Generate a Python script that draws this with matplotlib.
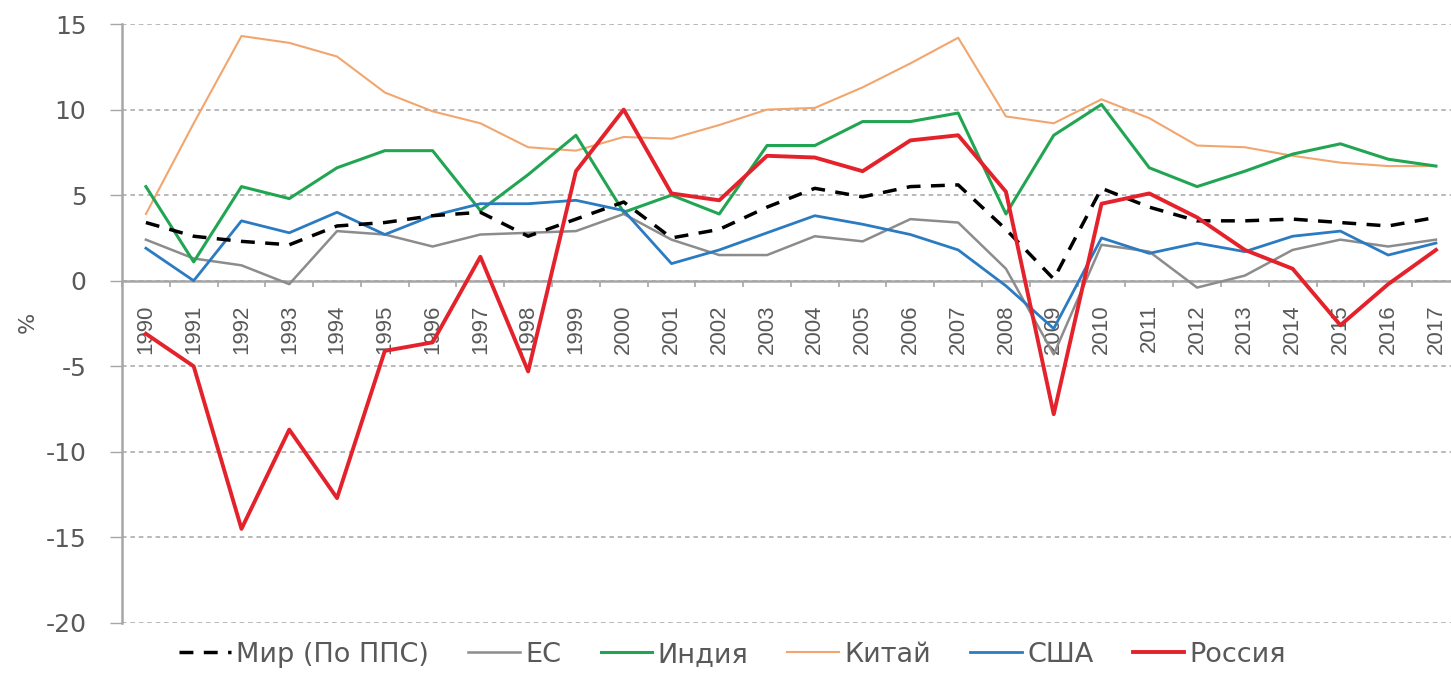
import matplotlib
matplotlib.use("Agg")
import matplotlib.pyplot as plt
from matplotlib.ticker import FixedLocator, MultipleLocator

# Data
years = list(range(1990, 2018))
world = [3.4, 2.6, 2.3, 2.1, 3.2, 3.4, 3.8, 4.0, 2.6, 3.6, 4.6, 2.5, 3.0, 4.3, 5.4, 4.9,
         5.5, 5.6, 3.0, 0.1, 5.4, 4.3, 3.5, 3.5, 3.6, 3.4, 3.2, 3.7]
eu = [2.4, 1.3, 0.9, -0.2, 2.9, 2.7, 2.0, 2.7, 2.8, 2.9, 3.9, 2.4, 1.5, 1.5, 2.6, 2.3,
      3.6, 3.4, 0.7, -4.3, 2.1, 1.7, -0.4, 0.3, 1.8, 2.4, 2.0, 2.4]
india = [5.5, 1.1, 5.5, 4.8, 6.6, 7.6, 7.6, 4.1, 6.2, 8.5, 4.0, 5.0, 3.9, 7.9, 7.9, 9.3,
         9.3, 9.8, 3.9, 8.5, 10.3, 6.6, 5.5, 6.4, 7.4, 8.0, 7.1, 6.7]
china = [3.9, 9.2, 14.3, 13.9, 13.1, 11.0, 9.9, 9.2, 7.8, 7.6, 8.4, 8.3, 9.1, 10.0, 10.1, 11.3,
         12.7, 14.2, 9.6, 9.2, 10.6, 9.5, 7.9, 7.8, 7.3, 6.9, 6.7, 6.7]
usa = [1.9, 0.0, 3.5, 2.8, 4.0, 2.7, 3.8, 4.5, 4.5, 4.7, 4.1, 1.0, 1.8, 2.8, 3.8, 3.3,
       2.7, 1.8, -0.3, -2.8, 2.5, 1.6, 2.2, 1.7, 2.6, 2.9, 1.5, 2.2]
russia = [-3.1, -5.0, -14.5, -8.7, -12.7, -4.1, -3.6, 1.4, -5.3, 6.4, 10.0, 5.1, 4.7, 7.3, 7.2, 6.4,
          8.2, 8.5, 5.2, -7.8, 4.5, 5.1, 3.7, 1.8, 0.7, -2.6, -0.2, 1.8]

labels = ["Мир (По ППС)", "ЕС", "Индия", "Китай", "США", "Россия"]
y_ticks = [-20, -15, -10, -5, 0, 5, 10, 15]

GRAY = "#A6A6A6"
TEXT = "#595959"

plt.rcParams["font.family"] = ["DejaVu Sans"]

fig = plt.figure(figsize=(14.51, 6.73), dpi=100)
ax = fig.add_axes((0.0841, 0.0743, 0.922, 0.890))

x = [i + 0.5 for i in range(len(years))]

ax.plot(x, world, color="black", lw=2.5, linestyle=(0, (4, 3)), label=labels[0], zorder=4)
ax.plot(x, eu, color="#8C8C8C", lw=1.8, label=labels[1], zorder=3)
ax.plot(x, india, color="#22A552", lw=2.2, label=labels[2], zorder=3)
ax.plot(x, china, color="#F2A66E", lw=1.5, label=labels[3], zorder=2)
ax.plot(x, usa, color="#2A7BC1", lw=2.0, label=labels[4], zorder=3)
ax.plot(x, russia, color="#E4222B", lw=2.8, label=labels[5], zorder=5)

ax.set_xlim(0, len(years))
ax.set_ylim(-20, 15)

# Grid
ax.yaxis.set_major_locator(FixedLocator(y_ticks))
ax.grid(axis="y", color=GRAY, lw=1.1, linestyle=(0, (3, 2.5)), zorder=0)
ax.set_axisbelow(True)

# Spines
for side in ("top", "right"):
    ax.spines[side].set_visible(False)
ax.spines["left"].set_color(GRAY)
ax.spines["left"].set_linewidth(1.8)
ax.spines["bottom"].set_position(("data", 0))
ax.spines["bottom"].set_color(GRAY)
ax.spines["bottom"].set_linewidth(1.8)

# Ticks
ax.set_xticks(x)
ax.set_xticklabels([str(y) for y in years], rotation=90, va="top", ha="center",
                   family=["Liberation Sans", "DejaVu Sans"], fontsize=16, color=TEXT)
ax.xaxis.set_minor_locator(MultipleLocator(1))
ax.tick_params(axis="x", which="major", length=0, pad=17)
ax.tick_params(axis="x", which="minor", length=4.5, width=1.2, color=GRAY, direction="out")
ax.tick_params(axis="y", which="major", length=8.6, width=1.0, color=GRAY, pad=17,
               labelsize=18, labelcolor=TEXT)
ax.set_yticklabels([str(v) for v in y_ticks])

fig.text(28 / 1451, 1 - 322 / 673, "%", rotation=90, fontsize=16, color=TEXT,
         ha="center", va="center")

fig.legend(loc="center", bbox_to_anchor=(0.505, 0.027), ncol=6, frameon=False,
           fontsize=19.5, labelcolor=TEXT, handlelength=1.9, handletextpad=0.2,
           columnspacing=1.45, borderpad=0.1)

fig.savefig("out.png", dpi=100)
